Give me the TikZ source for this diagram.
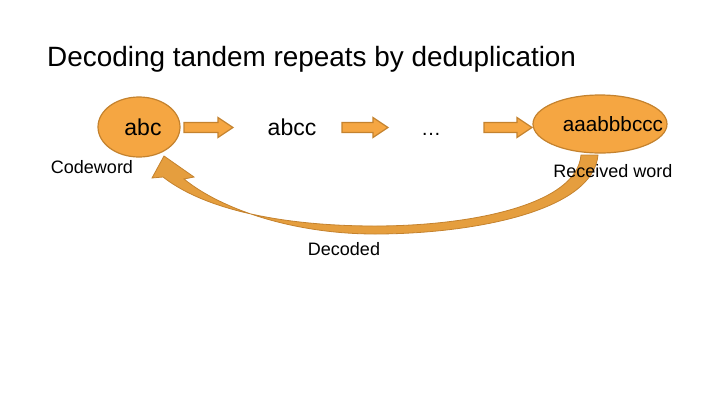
\documentclass[tikz,border=0pt]{standalone}
\usepackage{fontspec}
\setmainfont{Liberation Sans}
\usetikzlibrary{shapes.geometric}
\begin{document}
\begin{tikzpicture}[x=1pt,y=-1pt,
  blob/.style={ellipse, fill=orgfill, draw=orgedge, line width=1.2pt, inner sep=0pt},
  blockarrow/.style={fill=orgfill, draw=orgedge, line width=1.2pt, line join=miter},
  lbl/.style={font=\fontsize{18}{20}\selectfont, inner sep=0pt},
  big/.style={font=\fontsize{23}{26}\selectfont, inner sep=0pt}]
\definecolor{orgfill}{HTML}{F5A642}
\definecolor{orgedge}{HTML}{C4822E}
\definecolor{curvefill}{HTML}{E59E3E}
\useasboundingbox (0,0) rectangle (720,405);
% curved arrow (behind everything)
\draw[fill=curvefill, draw=orgedge, line width=0.8pt, line join=miter]
  (598,155) .. controls (593,212) and (470,234) .. (375,234)
  .. controls (295,234) and (222,210) .. (184,179)
  -- (194,177) -- (164,156) -- (152,178) -- (163,177)
  .. controls (208,212) and (290,226) .. (375,226)
  .. controls (470,226) and (577,205) .. (581,155) -- cycle;
% title
\node[anchor=base west, inner sep=0pt, font=\fontsize{27.9}{30}\selectfont] (title) at (47,66) {Decoding tandem repeats by deduplication};
% ellipses
\node[blob, minimum width=82pt, minimum height=60pt] (cw) at (139,127) {};
\node[big] (cwt) at (143,127) {abc};
\node[blob, minimum width=134pt, minimum height=58pt] (rw) at (600,124) {};
\node[font=\fontsize{20.7}{24}\selectfont, inner sep=0pt] (rwt) at (613,124) {aaabbbccc};
\node[big] (mid) at (292,127) {abcc};
\node[anchor=base, font=\fontsize{20}{24}\selectfont, inner sep=0pt] (dots) at (431,135) {\ldots};
% labels
\node[lbl] (lcw) at (92,167) {Codeword};
\node[lbl] (lrw) at (613,171) {Received word};
\node[lbl] (ldec) at (344,249) {Decoded};
% block arrows
\foreach \xa/\xb/\xt in {184/218/233, 342/373/388, 484/517/532}{
  \draw[blockarrow] (\xa,122.5) -- (\xb,122.5) -- (\xb,117.5) -- (\xt,127.5) -- (\xb,137.5) -- (\xb,132.5) -- (\xa,132.5) -- cycle;
}
\end{tikzpicture}
\end{document}
